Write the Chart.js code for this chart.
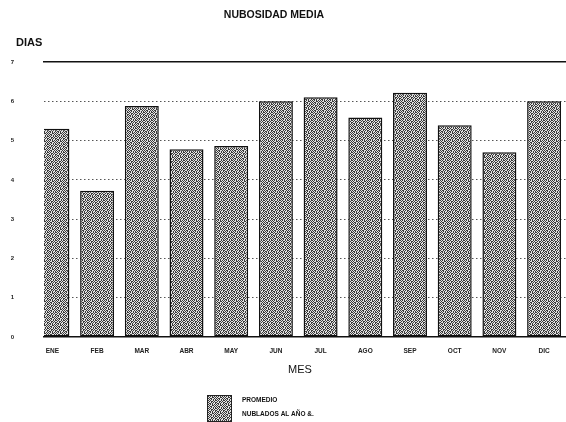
<!DOCTYPE html>
<html>
<head>
<meta charset="utf-8">
<script src="https://cdn.jsdelivr.net/npm/chart.js@4/dist/chart.umd.min.js"></script>
<style>
  html, body { margin: 0; padding: 0; background: #fff; }
  canvas { display: block; }
</style>
</head>
<body>
<canvas id="chart" width="566" height="422"></canvas>
<script>
// Nubosidad media: dias nublados por mes
const months = ['ENE', 'FEB', 'MAR', 'ABR', 'MAY', 'JUN', 'JUL', 'AGO', 'SEP', 'OCT', 'NOV', 'DIC'];
const promedio = [5.3, 3.72, 5.88, 4.78, 4.86, 6.0, 6.1, 5.59, 6.22, 5.39, 4.7, 6.0];
const legendLines = ['PROMEDIO', 'NUBLADOS AL AÑO &.'];

const FONT = '"Liberation Sans", Arial, sans-serif';

// stipple fill like the scanned halftone
function stipple() {
  const tile = [
    '#.#..#.#',
    '.#.##.#.',
    '#..#.#.#',
    '.##.#..#',
    '#.#.#.#.',
    '.#..##.#',
    '#.##..#.',
    '.#.#.#.#',
  ];
  const c = document.createElement('canvas');
  c.width = 8; c.height = 8;
  const g = c.getContext('2d');
  tile.forEach((row, y) => {
    [...row].forEach((ch, x) => {
      g.fillStyle = ch === '#' ? '#3a3a3a' : '#e2e2e2';
      g.fillRect(x, y, 1, 1);
    });
  });
  return g.createPattern(c, 'repeat');
}
const fill = stipple();

const textPlugin = {
  id: 'texts',
  afterDraw(chart) {
    const ctx = chart.ctx;
    ctx.save();
    ctx.fillStyle = '#111';
    ctx.textBaseline = 'middle';

    ctx.textAlign = 'center';
    ctx.font = 'bold 10.5px ' + FONT;
    ctx.fillText('NUBOSIDAD MEDIA', 274, 15);

    ctx.textAlign = 'left';
    ctx.font = 'bold 11px ' + FONT;
    ctx.fillText('DIAS', 16, 43);

    ctx.textAlign = 'center';
    ctx.font = '11px ' + FONT;
    ctx.fillText('MES', 300, 370);

    // legend: one swatch, two lines
    ctx.fillStyle = fill;
    ctx.fillRect(207, 395, 25, 27);
    ctx.strokeStyle = '#222';
    ctx.lineWidth = 1;
    ctx.strokeRect(207.5, 395.5, 24, 26);
    ctx.fillStyle = '#111';
    ctx.textAlign = 'left';
    ctx.font = 'bold 6.5px ' + FONT;
    ctx.fillText(legendLines[0], 242, 400);
    ctx.fillText(legendLines[1], 242, 414);
    ctx.restore();
  },
};

new Chart(document.getElementById('chart'), {
  type: 'bar',
  data: {
    datasets: [{
      label: legendLines[0],
      data: months.map((m, i) => ({ x: i + 1, y: promedio[i] })),
      backgroundColor: fill,
      borderColor: '#111',
      borderWidth: 1.5,
      borderSkipped: false,
      barPercentage: 0.76,
      categoryPercentage: 1,
      clip: 0,
    }],
  },
  options: {
    responsive: false,
    animation: false,
    layout: { padding: { top: 62, left: 0, right: 0, bottom: 0 } },
    plugins: {
      legend: { display: false },
      title: { display: false },
      tooltip: { enabled: false },
    },
    scales: {
      x: {
        type: 'linear',
        position: 'bottom',
        offset: false,
        min: 0.812,
        max: 12.49,
        afterBuildTicks: s => { s.ticks = months.map((m, i) => ({ value: i + 1 })); },
        afterFit: s => { s.height = 85; },
        grid: { display: false, drawTicks: false, offset: false },
        border: { display: true, color: '#111', width: 1.5 },
        ticks: {
          color: '#222',
          padding: 10,
          maxRotation: 0,
          autoSkip: false,
          font: { family: FONT, size: 6.5, weight: 'bold' },
          callback: v => months[v - 1] || '',
        },
      },
      xTop: {
        type: 'linear',
        position: 'top',
        offset: false,
        min: 0,
        max: 1,
        afterFit: s => { s.height = 0; },
        grid: { display: false, drawTicks: false },
        border: { display: true, color: '#111', width: 1.6 },
        ticks: { display: false },
      },
      y: {
        min: 0,
        max: 7,
        afterFit: s => { s.width = 44; },
        grid: {
          drawTicks: false,
          lineWidth: 1,
          color: c => (c.tick && (c.tick.value === 0 || c.tick.value === 7)) ? 'rgba(0,0,0,0)' : '#555',
        },
        border: { display: false, dash: [1.5, 2.5] },
        ticks: {
          stepSize: 1,
          color: '#222',
          padding: 30,
          font: { family: FONT, size: 6, weight: 'bold' },
        },
      },
    },
  },
  plugins: [textPlugin],
});
</script>
</body>
</html>
